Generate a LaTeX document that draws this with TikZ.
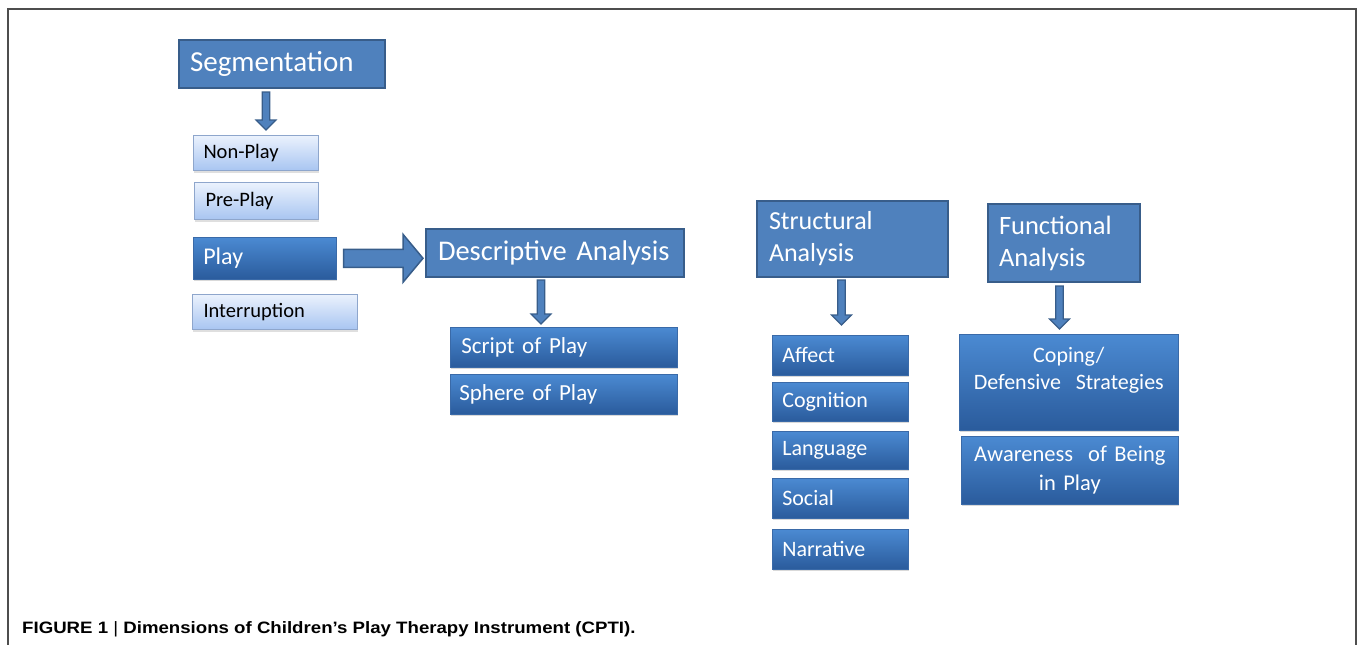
\documentclass[tikz,border=0pt]{standalone}
\usepackage{fontspec}
\setmainfont{Carlito}
\newfontfamily\capfont[FakeStretch=1.13]{Liberation Sans}
\usetikzlibrary{shadows,calc}
\definecolor{hdfill}{HTML}{4F81BD}
\definecolor{hddraw}{HTML}{385D8A}
\definecolor{dktop}{HTML}{4B8AD2}
\definecolor{dkbot}{HTML}{2A5B9C}
\definecolor{dkdraw}{HTML}{3A6AA8}
\definecolor{lttop}{HTML}{EBF2FD}
\definecolor{ltbot}{HTML}{A8C5F1}
\definecolor{ltdraw}{HTML}{8EA6CC}
\definecolor{framecol}{HTML}{4E4E4E}
\tikzset{
  headbox/.style={anchor=north west, fill=hdfill, draw=hddraw, line width=2pt, text=white, align=left, inner ysep=0pt},
  darkbox/.style={anchor=north west, top color=dktop, bottom color=dkbot, draw=dkdraw, line width=0.6pt, text=white, inner ysep=0pt,
    drop shadow={shadow xshift=0.6pt, shadow yshift=-2pt, opacity=0.3}},
  lightbox/.style={anchor=north west, top color=lttop, bottom color=ltbot, draw=ltdraw, line width=1pt, text=black, align=left, inner ysep=0pt,
    drop shadow={shadow xshift=0.6pt, shadow yshift=-2pt, opacity=0.25}},
  barrowdown/.style={fill=hdfill, draw=hddraw, line width=1.2pt, line join=miter,
    to path={let \p1=(\tikztostart), \p2=(\tikztotarget) in
      (\x1-3.8pt,\y1) -- (\x1+3.8pt,\y1) -- (\x1+3.8pt,\y2+10pt) -- (\x1+10pt,\y2+10pt) -- (\x1,\y2)
      -- (\x1-10pt,\y2+10pt) -- (\x1-3.8pt,\y2+10pt) -- cycle}},
  barrowright/.style={fill=hdfill, draw=hddraw, line width=1.5pt, line join=miter,
    to path={let \p1=(\tikztostart), \p2=(\tikztotarget) in
      (\x1,\y1+9pt) -- (\x2-20pt,\y1+9pt) -- (\x2-20pt,\y1+24pt) -- (\x2,\y1)
      -- (\x2-20pt,\y1-24pt) -- (\x2-20pt,\y1-9pt) -- (\x1,\y1-9pt) -- cycle}},
}
\begin{document}
\begin{tikzpicture}[x=1pt,y=-1pt]
\useasboundingbox (0,0) rectangle (1358,645);
\draw[framecol, line width=1.6pt] (8,645) -- (8,9) -- (1356,9) -- (1356,645);

% Segmentation column
\node[headbox, minimum height=48pt, inner xsep=11pt, text width=184pt, font=\fontsize{29}{32}\selectfont] (seg) at (178,39) {Segmentation};
\node[lightbox, minimum height=35pt, inner xsep=10pt, text width=105pt, font=\fontsize{20.5}{24}\selectfont] (nonplay) at (193,135) {Non-Play};
\node[lightbox, minimum height=37pt, inner xsep=11pt, text width=102pt, font=\fontsize{20.5}{24}\selectfont] (preplay) at (194,182) {Pre-Play};
\node[darkbox, align=left, minimum height=42pt, inner xsep=10pt, text width=123pt, font=\fontsize{24}{28}\selectfont] (play) at (193,237) {Play};
\node[lightbox, minimum height=35pt, inner xsep=11pt, text width=143pt, font=\fontsize{20.5}{24}\selectfont] (interr) at (192,294) {Interruption};

% Descriptive
\node[headbox, minimum height=48pt, inner xsep=12pt, text width=234pt, font=\fontsize{28.5}{32}\selectfont] (desc) at (425,228) {Descriptive Analysis};
\node[darkbox, align=left, minimum height=40pt, inner xsep=11pt, text width=205pt, font=\fontsize{23}{27}\selectfont] (script) at (450,327) {Script of Play};
\node[darkbox, align=left, minimum height=40pt, inner xsep=9pt, text width=209pt, font=\fontsize{23}{27}\selectfont] (sphere) at (450,374) {Sphere of Play};

% Structural
\node[headbox, minimum height=76pt, inner xsep=12pt, text width=167pt, font=\fontsize{26}{32}\selectfont] (struct) at (756,200) {Structural\\Analysis};
\node[darkbox, align=left, minimum height=40pt, inner xsep=10pt, text width=116pt, font=\fontsize{22}{26}\selectfont] (affect) at (772,335) {Affect};
\node[darkbox, align=left, minimum height=39pt, inner xsep=10pt, text width=116pt, font=\fontsize{22}{26}\selectfont] (cognition) at (772,382) {Cognition};
\node[darkbox, align=left, minimum height=38pt, inner xsep=10pt, text width=116pt, font=\fontsize{22}{26}\selectfont] (language) at (772,431) {Language};
\node[darkbox, align=left, minimum height=40pt, inner xsep=10pt, text width=116pt, font=\fontsize{22}{26}\selectfont] (social) at (772,478) {Social};
\node[darkbox, align=left, minimum height=40pt, inner xsep=10pt, text width=116pt, font=\fontsize{22}{26}\selectfont] (narrative) at (772,529) {Narrative};

% Functional
\node[headbox, minimum height=78pt, inner xsep=11pt, text width=130pt, font=\fontsize{26.5}{32}\selectfont] (func) at (987,203) {Functional\\Analysis};
\node[darkbox, align=center, minimum height=96pt, inner xsep=7pt, text width=205pt, font=\fontsize{22}{27}\selectfont] (coping) at (959,334) {Coping/\\Defensive\ \ Strategies\\\rule{0pt}{1pt}};
\node[darkbox, align=center, minimum height=68pt, inner xsep=7pt, text width=203pt, font=\fontsize{22.5}{29}\selectfont] (aware) at (961,436) {Awareness\ \ of Being\\in Play};

% arrows
\draw[barrowdown] ([xshift=-16pt,yshift=-3pt]seg.south) to ([xshift=9.5pt,yshift=5pt]nonplay.north);
\draw[barrowright] ([xshift=7pt]play.east) to ([xshift=-2pt,yshift=-6pt]desc.west);
\draw[barrowdown] ([xshift=-14pt,yshift=-2pt]desc.south) to ([xshift=-23.5pt,yshift=3pt]script.north);
\draw[barrowdown] ([xshift=-11pt,yshift=-2pt]struct.south) to ([xshift=0.5pt,yshift=10pt]affect.north);
\draw[barrowdown] ([xshift=-4.5pt,yshift=-3pt]func.south) to ([xshift=-10pt,yshift=5pt]coping.north);

% caption
\node[anchor=base west, inner sep=0pt, font=\capfont\bfseries\fontsize{16.5}{19}\selectfont] (cap) at (22,633) {FIGURE 1 {\mdseries|} Dimensions of Children’s Play Therapy Instrument (CPTI).};
\end{tikzpicture}
\end{document}
